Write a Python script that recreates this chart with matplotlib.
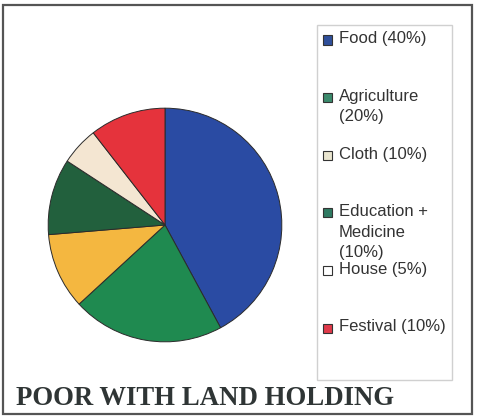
import matplotlib.pyplot as plt
from matplotlib.patches import Rectangle

# spending shares (%), clockwise from 12 o'clock
labels = ["Food", "Agriculture", "Cloth", "Education +\nMedicine", "House", "Festival"]
shares = [40, 20, 10, 10, 5, 10]
pie_colors = ["#2a4ba3", "#1f8a50", "#f4b740", "#22603d", "#f4e6d2", "#e5333c"]
key_colors = ["#2f4f9a", "#3b8a6c", "#e9e5cf", "#2f7a62", "#ffffff", "#e03a4a"]

W, H = 480, 418
fig = plt.figure(figsize=(W / 100, H / 100), dpi=100)
fig.patch.set_facecolor("white")

def fx(px):
    return px / W

def fy(py):
    return 1 - py / H

# pie: centre (165, 225) px, radius 118 px
cx, cy, r = 165, 225, 118
ax = fig.add_axes([fx(cx - r), fy(cy + r), 2 * r / W, 2 * r / H])
ax.pie(shares, colors=pie_colors, startangle=90, counterclock=False, radius=1,
       wedgeprops=dict(edgecolor="#2b2b2b", linewidth=0.7))
ax.set_xlim(-1.01, 1.01)
ax.set_ylim(-1.01, 1.01)
ax.set_aspect("equal")
ax.axis("off")

# outer frame
fig.add_artist(Rectangle((fx(3), fy(414)), fx(472) - fx(3), fy(5) - fy(414),
                         transform=fig.transFigure, fill=False,
                         edgecolor="#555555", linewidth=1.6))

# key box
fig.add_artist(Rectangle((fx(317), fy(380)), fx(452) - fx(317), fy(25) - fy(380),
                         transform=fig.transFigure, fill=False,
                         edgecolor="#d0d0d0", linewidth=1.0))

step = 57.6
for i, (lab, val, col) in enumerate(zip(labels, shares, key_colors)):
    y0 = 40 + i * step
    fig.add_artist(Rectangle((fx(323), fy(y0 + 4.5)), fx(9), 9 / H,
                             transform=fig.transFigure, facecolor=col,
                             edgecolor="#333333", linewidth=0.8))
    text = f"{lab} ({val}%)"
    if "\n" in lab or lab == "Agriculture":
        text = f"{lab}\n({val}%)"
    fig.text(fx(339), fy(y0 - 8.5), text, ha="left", va="top",
             fontsize=12, family="Liberation Sans", color="#333333",
             linespacing=1.45)

fig.text(fx(16), fy(405), "POOR WITH LAND HOLDING", ha="left", va="baseline",
         fontsize=19.3, family="Liberation Serif", fontweight="bold", color="#2f3535")

fig.savefig("out.png", dpi=100)
